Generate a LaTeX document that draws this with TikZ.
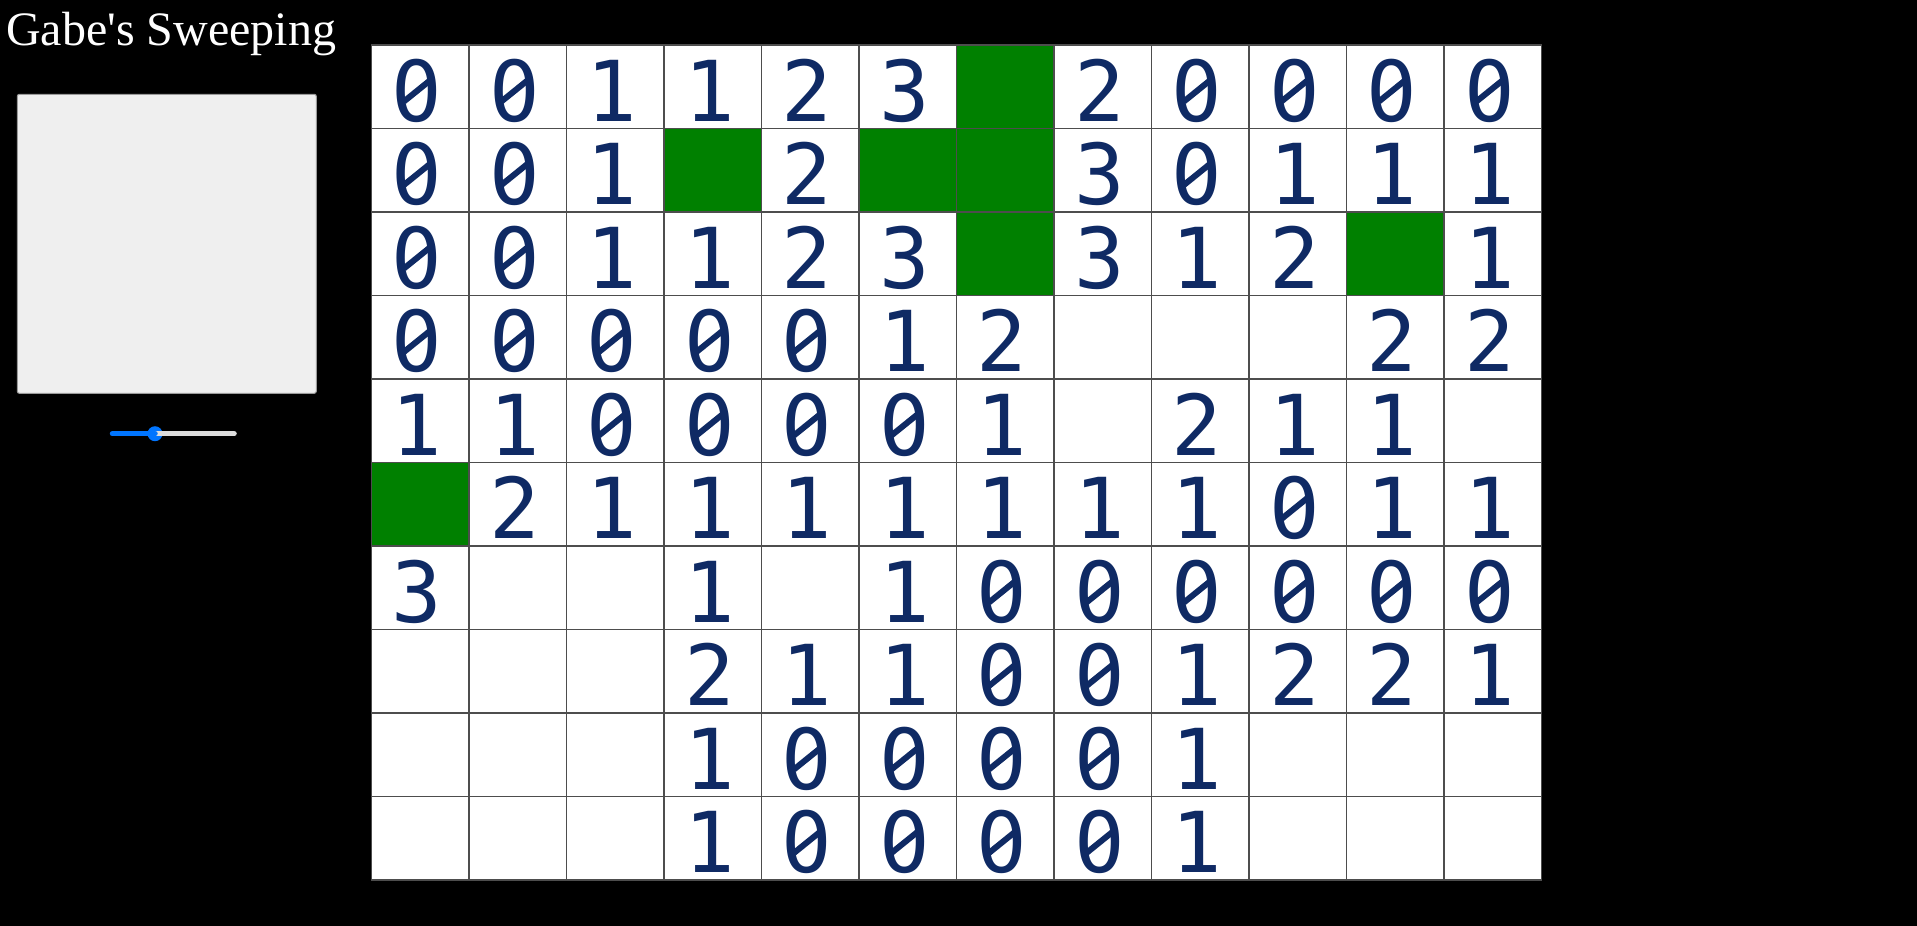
\documentclass[tikz,border=0pt]{standalone}
\usepackage{fontspec}
\setmainfont{Liberation Serif}
\newfontfamily\cellfont{DejaVu Sans Mono}
\definecolor{digitblue}{HTML}{0F2A64}
\definecolor{minegreen}{HTML}{008000}
\definecolor{panelgrey}{HTML}{EFEFEF}
\definecolor{panelline}{HTML}{9A9A9A}
\definecolor{sliderblue}{HTML}{0075FF}
\definecolor{trackgrey}{HTML}{DDDDDD}
\definecolor{gridline}{HTML}{4D4D4D}
\tikzset{
  cell/.style={draw=gridline, line width=1.5pt, fill=white, minimum width=97.5pt, minimum height=83.5pt, inner sep=0pt},
  mine/.style={cell, fill=minegreen},
  digit/.style={text=digitblue, font=\cellfont\fontsize{84}{84}\selectfont, inner sep=0pt, text height=61pt, text depth=0pt},
  zeroslash/.style={draw=digitblue, line width=6pt},
  heading/.style={text=white, font=\fontsize{48}{48}\selectfont, inner sep=0pt, anchor=base west},
  panel/.style={fill=panelgrey, draw=panelline, line width=1pt, rounded corners=2pt, minimum width=299pt, minimum height=299pt, inner sep=0pt},
  track/.style={line width=5.5pt, line cap=round},
  thumb/.style={circle, fill=sliderblue, minimum size=15pt, inner sep=0pt}
}
\def\minetag{G}
\def\blanktag{-}
\def\zerotag{0}

\begin{document}
\begin{tikzpicture}[x=1pt, y=-1pt]
  % page
  \fill[black] (0,0) rectangle (1917,926);
  \useasboundingbox (0,0) rectangle (1917,926);

  % left side
  \node[heading] (title) at (6,45) {Gabe\textquotesingle s Sweeping};
  \node[panel] (canvas) at (166.8,243.8) {};
  \coordinate (track-l) at (112.5,433.7);
  \coordinate (track-r) at (234,433.7);
  \node[thumb] (thumb) at (155,433.7) {};
  \draw[track, trackgrey] (thumb.center) -- (track-r);
  \draw[track, sliderblue] (track-l) -- (thumb.center);

  % board
  \foreach \row [count=\r from 0] in {
    {0,0,1,1,2,3,G,2,0,0,0,0},
    {0,0,1,G,2,G,G,3,0,1,1,1},
    {0,0,1,1,2,3,G,3,1,2,G,1},
    {0,0,0,0,0,1,2,-,-,-,2,2},
    {1,1,0,0,0,0,1,-,2,1,1,-},
    {G,2,1,1,1,1,1,1,1,0,1,1},
    {3,-,-,1,-,1,0,0,0,0,0,0},
    {-,-,-,2,1,1,0,0,1,2,2,1},
    {-,-,-,1,0,0,0,0,1,-,-,-},
    {-,-,-,1,0,0,0,0,1,-,-,-}} {
    \foreach \v [count=\c from 0] in \row {
      \ifx\v\minetag
        \node[mine] (c-\r-\c) at ({371.7+97.5*(\c+0.5)},{45.2+83.5*(\r+0.5)}) {};
      \else
        \node[cell] (c-\r-\c) at ({371.7+97.5*(\c+0.5)},{45.2+83.5*(\r+0.5)}) {};
        \ifx\v\blanktag\else
          \node[digit] (d-\r-\c) at ([shift={(-3.5,4)}]c-\r-\c.center) {\v};
        \fi
        % slashed zero
        \ifx\v\zerotag
          \fill[white] (d-\r-\c.center) ellipse (8pt and 14pt);
          \draw[zeroslash] ([shift={(-13,10.5)}]d-\r-\c.center) -- ([shift={(13,-10.5)}]d-\r-\c.center);
        \fi
      \fi
    }
  }
\end{tikzpicture}
\end{document}
